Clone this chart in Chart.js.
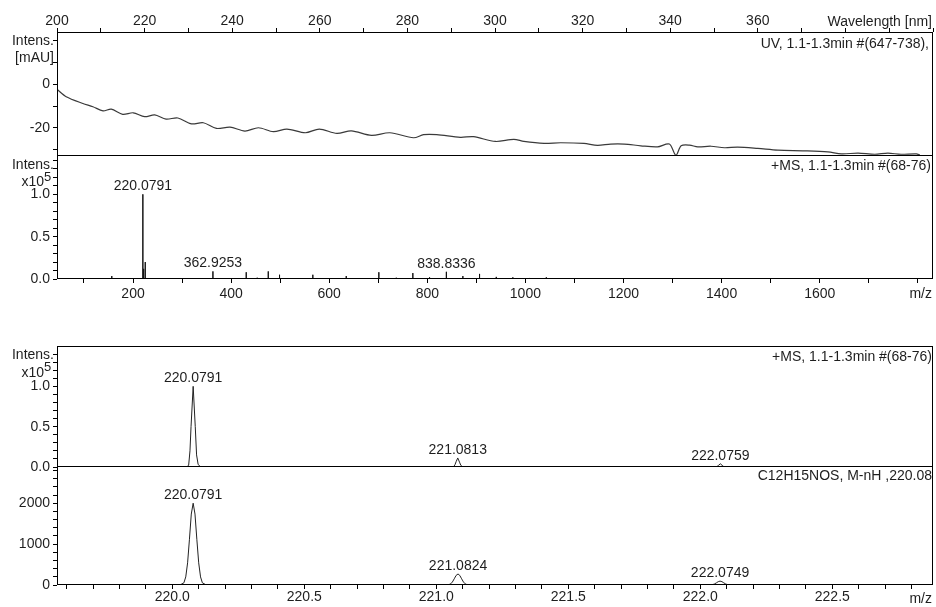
<!DOCTYPE html>
<html>
<head>
<meta charset="utf-8">
<title>UV / MS spectrum</title>
<script src="https://cdn.jsdelivr.net/npm/chart.js@4.4.1/dist/chart.umd.min.js"></script>
<style>
  html, body { margin: 0; padding: 0; background: #fff; }
  #sheet { position: relative; width: 936px; height: 607px; overflow: hidden; }
  #sheet canvas { position: absolute; left: 0; top: 0; }
</style>
</head>
<body>
<div id="sheet">
  <canvas id="uv" width="936" height="607"></canvas>
  <canvas id="ms" width="936" height="607"></canvas>
  <canvas id="iso" width="936" height="607"></canvas>
  <canvas id="sim" width="936" height="607"></canvas>
</div>
<script>
// ---------- UV trace, 1.1-1.3 min (mAU vs nm) ----------
const uvWavelength = [200, 202.1, 205.9, 208.2, 210.5, 212.4, 215, 217.4, 220, 222.3, 224.9, 227.6, 230.7, 233.4, 236.4, 239.5, 242.9, 246, 249.4, 252.5, 256.7, 259.9, 263.9, 267.2, 271.8, 276, 281.4, 283.7, 286.7, 292.1, 295.1, 300.1, 304.3, 306.6, 311.2, 315, 320.3, 323.4, 326.4, 329.5, 333.3, 337.1, 339.8, 341.3, 342.5, 344.4, 346.3, 349.3, 352.4, 355.4, 360, 364.6, 370.7, 376, 379.1, 382.9, 386.7, 389.7, 392.7, 396.2, 397];
const uvAbsorbance = [-2.3, -5.7, -8.8, -10.3, -12.2, -11.4, -13.8, -13.1, -14.9, -14.1, -16, -15.5, -18.2, -17.7, -20.3, -19.7, -21.5, -20, -21.8, -20.6, -22.3, -20.6, -22.6, -21.4, -23.5, -22.3, -24.6, -23.2, -23.2, -24.4, -24.1, -26.3, -25.3, -26.3, -27.2, -26.9, -27.2, -28.1, -27.5, -27.5, -28.3, -28.8, -27.5, -32.7, -28.3, -28, -28.8, -28.5, -29.2, -28.9, -29.5, -30.3, -30.6, -31.1, -32, -31.7, -32.2, -31.7, -32.2, -32, -32.6];

// ---------- +MS full scan, centroid sticks (intensity x10^5) ----------
const msMz        = [156.7, 220.0791, 221.08, 222.08, 224.9, 294.8, 328.9, 362.9253, 430.8, 453.2, 475.7, 498.7, 566.6, 634.7, 701.2, 736.7, 770.5, 804.6, 838.8336, 872.5, 906.5, 940.6, 974.4, 1008.5, 1042.6, 1076, 1110, 1178];
const msIntensity = [0.035, 1.0, 0.12, 0.05, 0.2, 0.01, 0.01, 0.09, 0.08, 0.015, 0.09, 0.05, 0.05, 0.035, 0.08, 0.015, 0.07, 0.02, 0.085, 0.035, 0.06, 0.025, 0.02, 0.012, 0.02, 0.01, 0.01, 0.01];
const msLabelled  = [220.0791, 362.9253, 838.8336];

// ---------- +MS profile around the molecular ion (intensity x10^5) ----------
const isoMz        = [219.5, 220.054, 220.062, 220.067, 220.071, 220.0791, 220.087, 220.092, 220.098, 220.108, 221.058, 221.066, 221.071, 221.075, 221.0813, 221.088, 221.093, 221.099, 221.108, 222.055, 222.063, 222.069, 222.0759, 222.083, 222.089, 222.097, 222.95];
const isoIntensity = [0, 0, 0.02, 0.2, 0.5, 1.0, 0.5, 0.15, 0.03, 0, 0, 0.004, 0.03, 0.065, 0.112, 0.06, 0.02, 0.004, 0, 0, 0.005, 0.02, 0.04, 0.02, 0.005, 0, 0];
const isoLabelled  = [220.0791, 221.0813, 222.0759];

// ---------- simulated pattern C12H15NOS, M-nH (counts) ----------
const simMz        = [219.5, 220.029, 220.044, 220.051, 220.058, 220.065, 220.072, 220.0791, 220.086, 220.093, 220.100, 220.107, 220.114, 220.129, 221.032, 221.047, 221.054, 221.061, 221.068, 221.075, 221.0824, 221.089, 221.096, 221.103, 221.110, 221.117, 221.132, 222.025, 222.040, 222.047, 222.054, 222.061, 222.068, 222.0749, 222.082, 222.089, 222.096, 222.103, 222.110, 222.125, 222.95];
const simIntensity = [0, 0, 53, 198, 542, 1119, 1735, 2000, 1735, 1119, 542, 198, 53, 0, 0, 7, 27, 73, 151, 234, 270, 234, 151, 73, 27, 7, 0, 0, 3, 9, 26, 53, 82, 95, 82, 53, 26, 9, 3, 0, 0];
const simLabelled  = [220.0791, 221.0824, 222.0749];

// ---------- axis tick labels ----------
const uvXLabels   = [200, 220, 240, 260, 280, 300, 320, 340, 360];
const uvYLabels   = [0, -20];
const msXLabels   = [200, 400, 600, 800, 1000, 1200, 1400, 1600];
const msYLabels   = [0.0, 0.5, 1.0];
const zoomXLabels = [220.0, 220.5, 221.0, 221.5, 222.0, 222.5];
const simYLabels  = [0, 1000, 2000];

const FONT = '"Liberation Sans", Arial, Helvetica, sans-serif';
const INK = '#1e1e1e';

// every minor step gets a tick mark; only values in `labels` get text
function tickSet(from, to, step, labels, fmt) {
  const out = [];
  const n = Math.round((to - from) / step);
  for (let i = 0; i <= n; i++) {
    const v = +(from + i * step).toFixed(6);
    const hit = labels.some(l => Math.abs(l - v) < step / 100);
    out.push({ value: v, text: hit ? fmt(v) : '' });
  }
  return out;
}

function axis(o) {
  return {
    type: 'linear',
    position: o.position,
    display: o.display !== false,
    min: o.min,
    max: o.max,
    afterBuildTicks: s => { s.ticks = o.ticks.map(t => ({ value: t.value, text: t.text })); },
    afterFit: s => {
      if (o.width != null) s.width = o.width;
      if (o.height != null) s.height = o.height;
    },
    ticks: {
      autoSkip: false, maxRotation: 0, minRotation: 0,
      padding: o.padding, color: INK,
      font: { family: FONT, size: 14 },
      callback: (v, i, ts) => ts[i].text
    },
    grid: { drawOnChartArea: false, drawTicks: true, tickLength: 4, color: '#000', tickColor: '#000', lineWidth: 1 },
    border: { display: false }
  };
}

// frame around the plot area, fixed captions, and peak m/z labels
const panelText = {
  id: 'panelText',
  afterDraw(chart, args, opts) {
    const ctx = chart.ctx, a = chart.chartArea;
    ctx.save();
    ctx.strokeStyle = '#000';
    ctx.lineWidth = 1;
    ctx.strokeRect(a.left + 0.5, a.top + 0.5, a.right - a.left - 1, a.bottom - a.top - 1);
    ctx.fillStyle = INK;
    ctx.textBaseline = 'alphabetic';
    for (const t of opts.texts || []) {
      ctx.font = (t.size || 14) + 'px ' + FONT;
      ctx.textAlign = t.align || 'right';
      ctx.fillText(t.text, t.x, t.y);
    }
    if (opts.peaks) {
      ctx.font = '14px ' + FONT;
      ctx.textAlign = 'center';
      const { mz, intensity, labelled } = opts.peaks;
      for (const m of labelled) {
        const i = mz.indexOf(m);
        const x = chart.scales.x.getPixelForValue(m);
        const y = chart.scales.y.getPixelForValue(intensity[i]);
        ctx.fillText(m.toFixed(4), x, y - 4);
      }
    }
    ctx.restore();
  }
};

function panel(id, o) {
  return new Chart(document.getElementById(id), {
    type: 'line',
    data: { datasets: o.datasets },
    options: {
      responsive: false,
      animation: false,
      events: [],
      layout: { padding: o.padding },
      plugins: {
        legend: { display: false },
        tooltip: { enabled: false },
        panelText: o.text
      },
      scales: { x: o.x, y: o.y }
    },
    plugins: [panelText]
  });
}

function lineSet(points, color, width) {
  return {
    data: points, parsing: false, borderColor: color, borderWidth: width,
    pointRadius: 0, tension: 0, fill: false
  };
}

const zip = (xs, ys) => xs.map((x, i) => ({ x, y: ys[i] }));
const sticks = (xs, ys) => xs.flatMap((x, i) => [{ x, y: 0 }, { x, y: ys[i] }, { x, y: 0 }]);

// UV spectrum
panel('uv', {
  padding: { left: 0, right: 3, top: 0, bottom: 451 },
  datasets: [Object.assign(lineSet(zip(uvWavelength, uvAbsorbance), '#3a3a3a', 1.2), { tension: 0.3 })],
  x: axis({ position: 'top', min: 200, max: 400, height: 32, padding: -2,
            ticks: tickSet(200, 400, 10, uvXLabels, v => String(v)) }),
  y: axis({ position: 'left', min: -33.0, max: 24.1, width: 57, padding: 3,
            ticks: tickSet(-30, 20, 10, uvYLabels, v => String(v)) }),
  text: { texts: [
    { text: 'Wavelength [nm]', x: 932, y: 26 },
    { text: 'Intens.', x: 54, y: 44.5 },
    { text: '[mAU]', x: 54, y: 62 },
    { text: 'UV, 1.1-1.3min #(647-738),', x: 929, y: 48 }
  ] }
});

// full MS scan
panel('ms', {
  padding: { left: 0, right: 3, top: 155, bottom: 302 },
  datasets: [lineSet(sticks(msMz, msIntensity), '#111', 1)],
  x: axis({ position: 'bottom', min: 45, max: 1831, height: 26, padding: 2.5,
            ticks: tickSet(100, 1800, 100, msXLabels, v => String(v)) }),
  y: axis({ position: 'left', min: 0, max: 1.464, width: 57, padding: 3,
            ticks: tickSet(0, 1.4, 0.1, msYLabels, v => v.toFixed(1)) }),
  text: {
    texts: [
      { text: 'm/z', x: 932, y: 298 },
      { text: 'Intens.', x: 54, y: 169 },
      { text: 'x10', x: 44, y: 186 },
      { text: '5', x: 44, y: 180.5, size: 13, align: 'left' },
      { text: '+MS, 1.1-1.3min #(68-76)', x: 931, y: 170 }
    ],
    peaks: { mz: msMz, intensity: msIntensity, labelled: msLabelled }
  }
});

// measured isotope profile
panel('iso', {
  padding: { left: 0, right: 3, top: 346, bottom: 140 },
  datasets: [lineSet(zip(isoMz, isoIntensity), '#222', 1)],
  x: axis({ position: 'bottom', display: false, min: 219.5633, max: 222.8815,
            ticks: tickSet(219.6, 222.8, 0.1, [], v => '') }),
  y: axis({ position: 'left', min: 0, max: 1.5, width: 57, padding: 3,
            ticks: tickSet(0, 1.4, 0.1, msYLabels, v => v.toFixed(1)) }),
  text: {
    texts: [
      { text: 'Intens.', x: 54, y: 359 },
      { text: 'x10', x: 44, y: 376.5 },
      { text: '5', x: 44, y: 371, size: 13, align: 'left' },
      { text: '+MS, 1.1-1.3min #(68-76)', x: 932, y: 361 }
    ],
    peaks: { mz: isoMz, intensity: isoIntensity, labelled: isoLabelled }
  }
});

// simulated isotope pattern
panel('sim', {
  padding: { left: 0, right: 3, top: 466, bottom: 0 },
  datasets: [lineSet(zip(simMz, simIntensity), '#222', 1)],
  x: axis({ position: 'bottom', min: 219.5633, max: 222.8815, height: 22, padding: 0,
            ticks: tickSet(219.6, 222.8, 0.1, zoomXLabels, v => v.toFixed(1)) }),
  y: axis({ position: 'left', min: 0, max: 2910, width: 57, padding: 3,
            ticks: tickSet(0, 2800, 200, simYLabels, v => String(v)) }),
  text: {
    texts: [
      { text: 'm/z', x: 932, y: 603 },
      { text: 'C12H15NOS, M-nH ,220.08', x: 932, y: 480 }
    ],
    peaks: { mz: simMz, intensity: simIntensity, labelled: simLabelled }
  }
});
</script>
</body>
</html>
